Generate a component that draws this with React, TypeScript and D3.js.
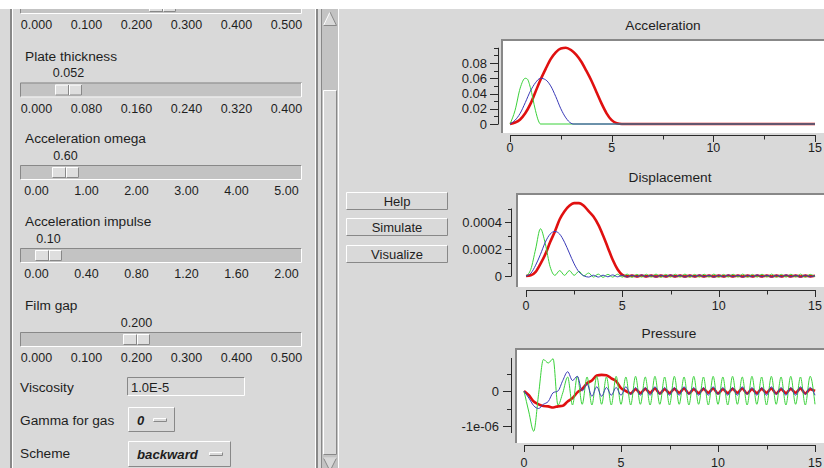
import React from "react";
import * as d3 from "d3";

const W = 824;
const H = 468;
const BG = "#d9d9d9";
const TROUGH = "#c3c3c3";
const DARK = "#888888";
const LIGHT = "#ffffff";
const TEXT = "#1e1e1e";
const AXIS = "#2a2a2a";
const FONT = "'Liberation Sans', Arial, Helvetica, sans-serif";

const RED = "#e01010";
const GREEN = "#3ad23a";
const BLUE = "#3a3ab8";

// ---------- left panel data ----------
const sliderLabels = ["", "Plate thickness", "Acceleration omega", "Acceleration impulse", "Film gap"];
const sliderValues = [0.25, 0.052, 0.6, 0.1, 0.2];
const sliderValueText = ["", "0.052", "0.60", "0.10", "0.200"];
const sliderMax = [0.5, 0.4, 5, 2, 0.5];
const sliderTicks0 = ["0.000", "0.100", "0.200", "0.300", "0.400", "0.500"];
const sliderTicks1 = ["0.000", "0.080", "0.160", "0.240", "0.320", "0.400"];
const sliderTicks2 = ["0.00", "1.00", "2.00", "3.00", "4.00", "5.00"];
const sliderTicks3 = ["0.00", "0.40", "0.80", "1.20", "1.60", "2.00"];
const sliderTicks4 = ["0.000", "0.100", "0.200", "0.300", "0.400", "0.500"];
const sliderTicks = [sliderTicks0, sliderTicks1, sliderTicks2, sliderTicks3, sliderTicks4];
const buttonLabels = ["Help", "Simulate", "Visualize"];

// ---------- chart data ----------
const STEP = 0.25; // sampling step of the uniform series (time units)
const timeTicksMajor = [0, 5, 10, 15];
const timeTicksMinor = [2.5, 7.5, 12.5];

const accRed: [number, number][] = [
  [0, 0], [0.25, 0.002], [0.5, 0.006], [0.75, 0.014], [1, 0.026], [1.25, 0.042], [1.5, 0.058],
  [1.75, 0.072], [2, 0.085], [2.25, 0.094], [2.5, 0.099], [2.75, 0.1], [3, 0.097], [3.25, 0.091],
  [3.5, 0.082], [3.75, 0.07], [4, 0.057], [4.25, 0.042], [4.5, 0.027], [4.75, 0.014], [5, 0.005],
  [5.25, 0.001], [5.5, 0], [15, 0],
];
const accGreen: [number, number][] = [
  [0, 0], [0.25, 0.018], [0.5, 0.047], [0.75, 0.06], [0.85, 0.059], [1, 0.048], [1.25, 0.018],
  [1.4, 0.004], [1.5, 0], [15, 0],
];
const accBlue: [number, number][] = [
  [0, 0], [0.25, 0.005], [0.5, 0.014], [0.75, 0.028], [1, 0.043], [1.25, 0.054], [1.5, 0.06],
  [1.75, 0.058], [2, 0.05], [2.25, 0.036], [2.5, 0.02], [2.75, 0.008], [3, 0.001], [3.1, 0], [15, 0],
];
const accYTicks = [0, 0.01, 0.02, 0.03, 0.04, 0.05, 0.06, 0.07, 0.08, 0.09, 0.1];
const accYLabelValues = [0, 0.02, 0.04, 0.06, 0.08];
const accYLabels = ["0", "0.02", "0.04", "0.06", "0.08"];

// displacement, in units of 1e-4
const DISP_UNIT = 1e-4;
const dispRed = [
  0, 0.05, 0.3, 0.9, 1.6, 2.5, 3.3, 4.2, 4.8, 5.2, 5.4, 5.4, 5.2, 4.8, 4.4, 3.8, 3.0, 2.1, 1.2, 0.5, 0.08, -0.03,
  0.03, -0.03, 0.04, -0.03, 0.03, -0.04, 0.03, -0.03, 0.04, -0.03, 0.03, -0.04,
  0.03, -0.03, 0.04, -0.03, 0.03, -0.04, 0.03, -0.03, 0.04, -0.03, 0.03, -0.04,
  0.03, -0.03, 0.04, -0.03, 0.03, -0.04, 0.03, -0.03, 0.04, -0.03, 0.03, -0.04,
  0.03, -0.03, 0.02,
];
const dispGreen = [
  0, 0.5, 2.0, 3.5, 2.4, 0.7, 0.05, 0.4, 0.05, 0.4, 0.05, 0.35, 0.0, 0.22,
  -0.08, 0.14, -0.1, 0.12, -0.08, 0.13, -0.08, 0.14, -0.1, 0.12, -0.08, 0.13,
  -0.08, 0.14, -0.1, 0.12, -0.08, 0.13, -0.08, 0.14, -0.1, 0.12, -0.08, 0.13,
  -0.08, 0.14, -0.1, 0.12, -0.08, 0.13, -0.08, 0.14, -0.1, 0.12, -0.08, 0.13,
  -0.08, 0.14, -0.1, 0.12, -0.08, 0.13, -0.08, 0.14, -0.1, 0.12, -0.06,
];
const dispBlue = [
  0, 0.2, 0.8, 1.6, 2.5, 3.1, 3.3, 3.1, 2.5, 1.7, 0.9, 0.3, 0.02, -0.08,
  0.06, -0.08, 0.06, -0.06, 0.08, -0.06, 0.06, -0.08, 0.06, -0.06, 0.08, -0.06,
  0.06, -0.08, 0.06, -0.06, 0.08, -0.06, 0.06, -0.08, 0.06, -0.06, 0.08, -0.06,
  0.06, -0.08, 0.06, -0.06, 0.08, -0.06, 0.06, -0.08, 0.06, -0.06, 0.08, -0.06,
  0.06, -0.08, 0.06, -0.06, 0.08, -0.06, 0.06, -0.08, 0.06, -0.06, 0.03,
];
const dispYTicks = [0, 0.0001, 0.0002, 0.0003, 0.0004, 0.0005];
const dispYLabelValues = [0, 0.0002, 0.0004];
const dispYLabels = ["0", "0.0002", "0.0004"];

// pressure, in units of 1e-6
const PRESS_UNIT = 1e-6;
const pressRed = [
  0, -0.12, -0.3, -0.38, -0.43, -0.44, -0.47, -0.44, -0.42, -0.3, -0.2, -0.04, 0.06, 0.22, 0.3, 0.44,
  0.46, 0.45, 0.36, 0.28, 0.08, 0.0,
  -0.07, 0.05, -0.06, 0.06, -0.05, 0.07, -0.07, 0.05, -0.06, 0.06, -0.05, 0.07,
  -0.07, 0.05, -0.06, 0.06, -0.05, 0.07, -0.07, 0.05, -0.06, 0.06, -0.05, 0.07,
  -0.07, 0.05, -0.06, 0.06, -0.05, 0.07, -0.07, 0.05, -0.06, 0.06, -0.05, 0.07,
  -0.07, 0.05, 0.0,
];
const pressBlue = [
  0, -0.2, -0.42, -0.5, -0.38, -0.3, -0.05, 0.0, 0.3, 0.55, 0.3, 0.42, 0.0, 0.2, -0.15, 0.12, -0.15, 0.1, -0.12,
  0.1, -0.12, 0.12, -0.1, 0.1, -0.12, 0.1, -0.12, 0.12, -0.1, 0.1, -0.12,
  0.1, -0.12, 0.12, -0.1, 0.1, -0.12, 0.1, -0.12, 0.12, -0.1, 0.1, -0.12,
  0.1, -0.12, 0.12, -0.1, 0.1, -0.12, 0.1, -0.12, 0.12, -0.1, 0.1, -0.12,
  0.1, -0.12, 0.12, -0.1, 0.1, -0.12,
];
const pressGreen = [
  0, -0.6, -1.15, -0.1, 0.9, 0.8, 0.92, -0.4, -0.05, 0.4,
  -0.4, 0.42, -0.38, 0.4, -0.4, 0.42, -0.38, 0.4, -0.4, 0.42, -0.38, 0.4,
  -0.4, 0.42, -0.38, 0.4, -0.4, 0.42, -0.38, 0.4, -0.4, 0.42, -0.38, 0.4,
  -0.4, 0.42, -0.38, 0.4, -0.4, 0.42, -0.38, 0.4, -0.4, 0.42, -0.38, 0.4,
  -0.4, 0.42, -0.38, 0.4, -0.4, 0.42, -0.38, 0.4, -0.4, 0.42, -0.38, 0.4,
  -0.4, 0.42, -0.38,
];
const pressYTicks = [-1e-6, -0.5e-6, 0, 0.5e-6];
const pressYLabelValues = [-1e-6, 0];
const pressYLabels = ["-1e-06", "0"];

const toPts = (vals: number[], unit: number): [number, number][] =>
  vals.map((v, i) => [i * STEP, v * unit]);

type Series = { color: string; width: number; pts: [number, number][] };
interface ChartSpec {
  id: string;
  title: string;
  titleX: number;
  titleY: number;
  boxX: number;
  boxTop: number;
  boxBottom: number;
  yAxisX: number;
  yDomain: [number, number];
  yRange: [number, number];
  yExtent: [number, number];
  yTicks: number[];
  yLabelValues: number[];
  yLabels: string[];
  majorLen: number;
  minorLen: number;
  labelRight: number;
  xRange: [number, number];
  xAxisY: number;
  xLabelBase: number;
  series: Series[];
}

function Bevel({ x, y, w, h, fill, raised }: { x: number; y: number; w: number; h: number; fill: string; raised: boolean }) {
  const tl = raised ? LIGHT : DARK;
  const br = raised ? DARK : LIGHT;
  return (
    <g>
      <rect x={x} y={y} width={w} height={h} fill={fill} />
      <path d={`M${x + 0.5},${y + h - 0.5}V${y + 0.5}H${x + w - 0.5}`} stroke={tl} fill="none" />
      <path d={`M${x + 0.5},${y + h - 0.5}H${x + w - 0.5}V${y + 0.5}`} stroke={br} fill="none" />
    </g>
  );
}

function Chart({ spec }: { spec: ChartSpec }) {
  const x = d3.scaleLinear().domain([0, 15]).range(spec.xRange);
  const y = d3.scaleLinear().domain(spec.yDomain).range(spec.yRange);
  const line = d3
    .line<[number, number]>()
    .x((d) => x(d[0]))
    .y((d) => y(d[1]))
    .curve(d3.curveMonotoneX);
  const boxW = 840 - spec.boxX;
  const boxH = spec.boxBottom - spec.boxTop;
  const clipId = `clip-${spec.id}`;
  return (
    <g>
      <text x={spec.titleX} y={spec.titleY} textAnchor="middle" fontSize={13.7} fill={TEXT}>
        {spec.title}
      </text>
      <rect x={spec.boxX} y={spec.boxTop} width={boxW} height={boxH} fill="#ffffff" />
      <path
        d={`M${spec.boxX + 1},${spec.boxBottom}V${spec.boxTop + 1}H${spec.boxX + boxW}`}
        stroke={DARK}
        strokeWidth={2}
        fill="none"
      />
      <defs>
        <clipPath id={clipId}>
          <rect x={spec.boxX + 2} y={spec.boxTop + 2} width={boxW} height={boxH - 2} />
        </clipPath>
      </defs>
      <g clipPath={`url(#${clipId})`}>
        {spec.series.map((s, i) => (
          <path
            key={i}
            d={line(s.pts) || ""}
            fill="none"
            stroke={s.color}
            strokeWidth={s.width}
            strokeLinejoin="round"
          />
        ))}
      </g>
      {/* y axis */}
      <line
        x1={spec.yAxisX + 0.5}
        x2={spec.yAxisX + 0.5}
        y1={y(spec.yExtent[0])}
        y2={y(spec.yExtent[1])}
        stroke={AXIS}
      />
      {spec.yTicks.map((v, i) => {
        const major = spec.yLabelValues.some((lv) => Math.abs(lv - v) < 1e-12);
        const yy = Math.round(y(v)) + 0.5;
        return (
          <line
            key={i}
            x1={spec.yAxisX - (major ? spec.majorLen : spec.minorLen)}
            x2={spec.yAxisX + 0.5}
            y1={yy}
            y2={yy}
            stroke={AXIS}
          />
        );
      })}
      {spec.yLabelValues.map((v, i) => (
        <text key={i} x={spec.labelRight} y={y(v) + 4.6} textAnchor="end" fontSize={13} fill={TEXT}>
          {spec.yLabels[i]}
        </text>
      ))}
      {/* x axis */}
      <line x1={x(0)} x2={x(15) + 1} y1={spec.xAxisY + 0.5} y2={spec.xAxisY + 0.5} stroke={AXIS} />
      {timeTicksMajor.map((t) => (
        <line
          key={`M${t}`}
          x1={Math.round(x(t)) + 0.5}
          x2={Math.round(x(t)) + 0.5}
          y1={spec.xAxisY}
          y2={spec.xAxisY + 7}
          stroke={AXIS}
        />
      ))}
      {timeTicksMinor.map((t) => (
        <line
          key={`m${t}`}
          x1={Math.round(x(t)) + 0.5}
          x2={Math.round(x(t)) + 0.5}
          y1={spec.xAxisY}
          y2={spec.xAxisY + 4.5}
          stroke={AXIS}
        />
      ))}
      {timeTicksMajor.map((t) => (
        <text key={`l${t}`} x={x(t)} y={spec.xLabelBase} textAnchor="middle" fontSize={12.5} fill={TEXT}>
          {String(t)}
        </text>
      ))}
    </g>
  );
}

const charts: ChartSpec[] = [
  {
    id: "acc",
    title: "Acceleration",
    titleX: 663,
    titleY: 30,
    boxX: 501,
    boxTop: 39,
    boxBottom: 133,
    yAxisX: 498,
    yDomain: [0, 0.1],
    yRange: [124, 47.75],
    yExtent: [0, 0.1],
    yTicks: accYTicks,
    yLabelValues: accYLabelValues,
    yLabels: accYLabels,
    majorLen: 8,
    minorLen: 4,
    labelRight: 487,
    xRange: [510, 815],
    xAxisY: 135,
    xLabelBase: 152,
    series: [
      { color: RED, width: 2.6, pts: accRed },
      { color: GREEN, width: 1, pts: accGreen },
      { color: BLUE, width: 1, pts: accBlue },
    ],
  },
  {
    id: "disp",
    title: "Displacement",
    titleX: 670,
    titleY: 182,
    boxX: 516,
    boxTop: 193,
    boxBottom: 287,
    yAxisX: 511,
    yDomain: [0, 0.0005],
    yRange: [276, 208.5],
    yExtent: [0, 0.0005],
    yTicks: dispYTicks,
    yLabelValues: dispYLabelValues,
    yLabels: dispYLabels,
    majorLen: 6,
    minorLen: 3,
    labelRight: 502,
    xRange: [526, 815],
    xAxisY: 290,
    xLabelBase: 309.5,
    series: [
      { color: RED, width: 2.6, pts: toPts(dispRed, DISP_UNIT) },
      { color: GREEN, width: 1, pts: toPts(dispGreen, DISP_UNIT) },
      { color: BLUE, width: 1, pts: toPts(dispBlue, DISP_UNIT) },
    ],
  },
  {
    id: "press",
    title: "Pressure",
    titleX: 669,
    titleY: 337.5,
    boxX: 515,
    boxTop: 348,
    boxBottom: 443,
    yAxisX: 511,
    yDomain: [-1e-6, 0],
    yRange: [426, 391],
    yExtent: [-1.2e-6, 0.943e-6],
    yTicks: pressYTicks,
    yLabelValues: pressYLabelValues,
    yLabels: pressYLabels,
    majorLen: 8,
    minorLen: 4,
    labelRight: 499,
    xRange: [524, 815],
    xAxisY: 445,
    xLabelBase: 466.5,
    series: [
      { color: RED, width: 2.6, pts: toPts(pressRed, PRESS_UNIT) },
      { color: GREEN, width: 1, pts: toPts(pressGreen, PRESS_UNIT) },
      { color: BLUE, width: 1, pts: toPts(pressBlue, PRESS_UNIT) },
    ],
  },
];

const sliderTop = [-1, 82.5, 165, 248, 332];
const KNOB_W = 27;

function Slider({ k }: { k: number }) {
  const top = sliderTop[k];
  const knob = d3.scaleLinear().domain([0, sliderMax[k]]).range([22, 275]);
  const tickPos = d3.scaleLinear().domain([0, sliderTicks[k].length - 1]).range([36.5, 286.5]);
  const kx = Math.round(knob(sliderValues[k]));
  return (
    <g>
      {sliderLabels[k] && (
        <text x={25} y={top - 27 + 5} fontSize={13.7} fill={TEXT}>
          {sliderLabels[k]}
        </text>
      )}
      {sliderValueText[k] && (
        <text x={kx + KNOB_W / 2} y={top - 10 + 4.5} textAnchor="middle" fontSize={12.5} fill={TEXT}>
          {sliderValueText[k]}
        </text>
      )}
      <Bevel x={20} y={top} w={282} h={15} fill={TROUGH} raised={false} />
      <Bevel x={kx} y={top + 2} w={KNOB_W} h={11} fill="#dedede" raised={true} />
      <line x1={kx + 13.5} x2={kx + 13.5} y1={top + 2.5} y2={top + 12.5} stroke={DARK} />
      <line x1={kx + 14.5} x2={kx + 14.5} y1={top + 2.5} y2={top + 12.5} stroke={LIGHT} />
      {sliderTicks[k].map((t, i) => (
        <text key={i} x={tickPos(i)} y={top + 25.5 + 4.5} textAnchor="middle" fontSize={12.5} fill={TEXT}>
          {t}
        </text>
      ))}
    </g>
  );
}

export default function App() {
  const buttonTop = [192, 218, 245];
  return (
    <svg
      width={W}
      height={H}
      style={{ position: "fixed", left: 0, top: 0, display: "block" }}
      fontFamily={FONT}
    >
      <rect x={0} y={0} width={W} height={H} fill={BG} />

      {/* left panel frame */}
      <line x1={11} x2={11} y1={9} y2={H} stroke={DARK} strokeWidth={2} />
      <line x1={12.5} x2={12.5} y1={9} y2={H} stroke={LIGHT} />
      <line x1={315.5} x2={315.5} y1={9} y2={H} stroke={LIGHT} />
      <line x1={317} x2={317} y1={9} y2={H} stroke={DARK} strokeWidth={2} />

      {[0, 1, 2, 3, 4].map((k) => (
        <Slider key={k} k={k} />
      ))}

      {/* viscosity */}
      <text x={20} y={392} fontSize={13.7} fill={TEXT}>Viscosity</text>
      <Bevel x={127} y={377} w={118} h={19} fill={BG} raised={false} />
      <text x={131} y={391.5} fontSize={13} fill={TEXT}>1.0E-5</text>

      {/* gamma */}
      <text x={20} y={425} fontSize={13.7} fill={TEXT}>Gamma for gas</text>
      <Bevel x={128} y={407} w={47} h={25} fill={BG} raised={true} />
      <text x={137} y={424.5} fontSize={13} fontWeight="bold" fontStyle="italic" fill={TEXT}>0</text>
      <Bevel x={153} y={418} w={14} h={4} fill={BG} raised={true} />

      {/* scheme */}
      <text x={20} y={458} fontSize={13.7} fill={TEXT}>Scheme</text>
      <Bevel x={128} y={441} w={103} h={26} fill={BG} raised={true} />
      <text x={137} y={458.5} fontSize={13.2} fontWeight="bold" fontStyle="italic" fill={TEXT}>backward</text>
      <Bevel x={209} y={452} w={14} h={4} fill={BG} raised={true} />

      {/* scrollbar */}
      <rect x={321} y={9} width={18} height={H - 9} fill={TROUGH} />
      <line x1={321.5} x2={321.5} y1={9} y2={H} stroke={DARK} />
      <line x1={338.5} x2={338.5} y1={9} y2={H} stroke={LIGHT} />
      <path d="M330,12 L323.5,25.5 L336.5,25.5 Z" fill={BG} stroke="none" />
      <path d="M323.5,25.5 L330,12" stroke={LIGHT} fill="none" />
      <path d="M330,12 L336.5,25.5 L323.5,25.5" stroke={DARK} fill="none" />
      <Bevel x={323} y={90} w={14} h={365} fill={BG} raised={true} />
      <path d="M323.5,458 L336.5,458 L330,471 Z" fill={BG} stroke={DARK} />
      <path d="M323.5,458 L336.5,458" stroke={LIGHT} />

      {/* buttons */}
      {buttonLabels.map((b, i) => (
        <g key={b}>
          <Bevel x={346} y={buttonTop[i]} w={102} h={18} fill={BG} raised={true} />
          <text x={397} y={buttonTop[i] + 13.5} textAnchor="middle" fontSize={13} fill={TEXT}>
            {b}
          </text>
        </g>
      ))}

      {charts.map((c) => (
        <Chart key={c.id} spec={c} />
      ))}

      <rect x={0} y={0} width={W} height={9} fill="#ffffff" />
    </svg>
  );
}
